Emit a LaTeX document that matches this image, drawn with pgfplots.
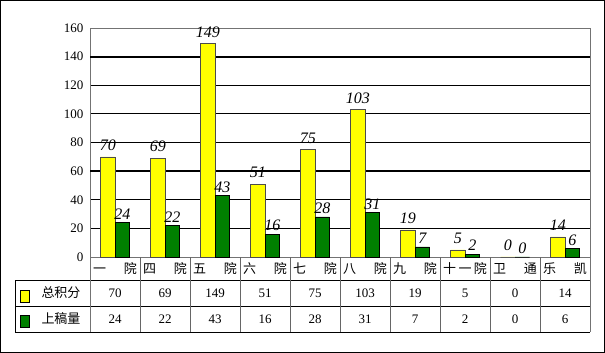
\documentclass[border=0pt]{standalone}
\usepackage{pgfplots}
\pgfplotsset{compat=1.18}
\usepackage{pgfplotstable}
\usepackage{fontspec}
\setmainfont{Liberation Serif}
\newfontfamily\cjk{Noto Sans CJK SC}
\definecolor{xlyellow}{RGB}{255,255,0}
\definecolor{xlgreen}{RGB}{0,128,0}

\pgfplotstableread{
x a b
0 70 24
1 69 22
2 149 43
3 51 16
4 75 28
5 103 31
6 19 7
7 5 2
8 0 0
9 14 6
}\datatab

\begin{document}
\begin{tikzpicture}[x=1pt,y=1pt]
\useasboundingbox (0,0) rectangle (605,353);
\fill[white] (0,0) rectangle (605,353);
\draw[line width=1pt] (0.5,0.5) rectangle (604.5,352.5);
\begin{axis}[
  at={(90pt,96pt)}, anchor=south west,
  scale only axis, width=500pt, height=229pt,
  xmin=-0.5, xmax=9.5, ymin=0, ymax=160,
  ytick={0,20,...,160},
  xtick={0,...,9},
  xticklabels={
    {\makebox[44pt]{一\hfill 院}},
    {\makebox[44pt]{四\hfill 院}},
    {\makebox[44pt]{五\hfill 院}},
    {\makebox[44pt]{六\hfill 院}},
    {\makebox[44pt]{七\hfill 院}},
    {\makebox[44pt]{八\hfill 院}},
    {\makebox[44pt]{九\hfill 院}},
    {\makebox[44pt]{十\hfill 一\hfill 院}},
    {\makebox[44pt]{卫\hfill 通}},
    {\makebox[44pt]{乐\hfill 凯}}},
  major tick length=0pt,
  ymajorgrids, major grid style={black, line width=0.8pt},
  axis line style={black!55, line width=0.8pt},
  clip=false,
  /pgf/number format/assume math mode=true,
  yticklabel style={font=\fontsize{13}{13}\selectfont, xshift=-3pt},
  xticklabel style={anchor=center, yshift=-11.5pt, font=\cjk\fontsize{13}{13}\selectfont},
  extra y ticks={60,140}, extra y tick labels={},
  extra y tick style={grid=major, major grid style={black, line width=1.8pt}},
]
\addplot[ybar, bar width=14.5pt, bar shift=-7.25pt, fill=xlyellow, draw=black!70, line width=0.5pt,
  nodes near coords,
  every node near coord/.append style={font=\itshape\fontsize{16}{16}\selectfont, anchor=south, yshift=5pt, xshift=-7.25pt, text=black, inner sep=1pt}]
  table[x=x,y=a]{\datatab};
\addplot[ybar, bar width=14.5pt, bar shift=7.25pt, fill=xlgreen, draw=black, line width=0.5pt,
  nodes near coords,
  every node near coord/.append style={font=\itshape\fontsize{16}{16}\selectfont, anchor=south, yshift=2pt, xshift=7.25pt, text=black, inner sep=1pt}]
  table[x=x,y=b]{\datatab};
\addplot[draw=none, mark=none, nodes near coords, point meta=explicit, nodes near coords align={center},
  every node near coord/.append style={anchor=center, font=\fontsize{13}{13}\selectfont, inner sep=0pt}]
  table[x=x, y expr=-25.15, meta=a]{\datatab};
\addplot[draw=none, mark=none, nodes near coords, point meta=explicit, nodes near coords align={center},
  every node near coord/.append style={anchor=center, font=\fontsize{13}{13}\selectfont, inner sep=0pt}]
  table[x=x, y expr=-43.3, meta=b]{\datatab};
\end{axis}
% table lines
\draw[black, line width=0.8pt] (15,73) -- (590,73);
\draw[black, line width=0.8pt] (15,46.5) -- (590,46.5);
\draw[black, line width=0.8pt] (15,21) -- (590,21);
\draw[black, line width=0.8pt] (15,21) -- (15,73);
\draw[black!55, line width=0.8pt] (90,21) -- (90,96);
\draw[black!55, line width=0.8pt] (590,21) -- (590,96);
\foreach \i in {1,...,9} {
  \draw[black!60, line width=0.8pt] ({90+50*\i},21) -- ({90+50*\i},96);
}
% legend keys
\draw[black, line width=0.6pt, fill=xlyellow] (20,51) rectangle (29,63);
\draw[black, line width=0.6pt, fill=xlgreen] (20,26) rectangle (29,38);
\node[font=\cjk\fontsize{13}{13}\selectfont] at (61,60) {总积分};
\node[font=\cjk\fontsize{13}{13}\selectfont] at (61,34) {上稿量};
\end{tikzpicture}
\end{document}
